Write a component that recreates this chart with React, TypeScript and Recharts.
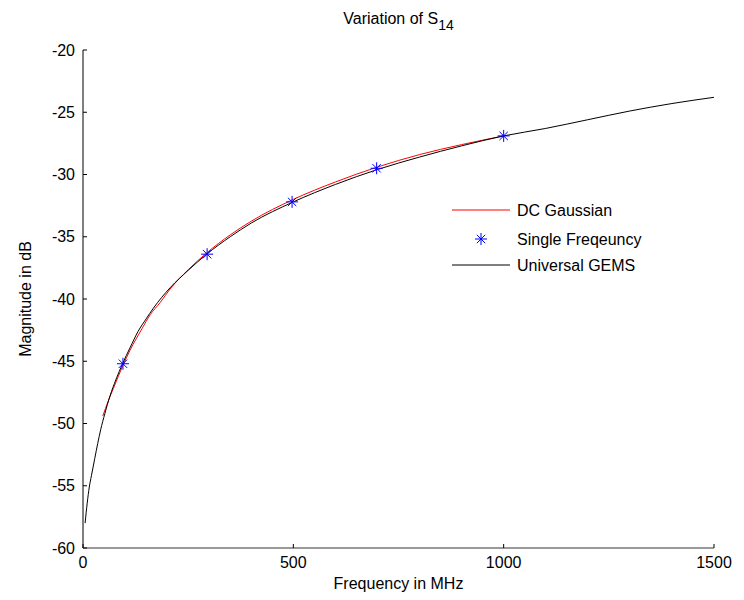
import React from 'react';
import { ComposedChart, Line, Scatter, XAxis, YAxis } from 'recharts';

// Universal GEMS (black)
const GEMS_FREQ = [5, 10, 15, 20, 28, 35, 42, 52, 64, 78, 94, 112, 131, 150, 167, 207, 250, 294, 350, 400, 500, 600, 700, 800, 900, 1000, 1100, 1200, 1300, 1400, 1500];
const GEMS_MAG = [-58.0, -56.4, -55.1, -54.2, -52.8, -51.6, -50.5, -49.2, -47.8, -46.5, -45.2, -43.9, -42.6, -41.6, -40.75, -39.1, -37.7, -36.4, -35.0, -33.9, -32.2, -30.8, -29.6, -28.6, -27.7, -26.9, -26.3, -25.6, -24.9, -24.3, -23.8];

// DC Gaussian (red)
const DC_FREQ = [47, 60, 72, 94, 112, 140, 160, 183, 207, 250, 294, 350, 400, 500, 600, 700, 800, 900, 1000];
const DC_MAG = [-49.4, -48.2, -47.2, -45.4, -44.1, -42.4, -41.25, -40.3, -39.2, -37.65, -36.3, -34.85, -33.75, -32.0, -30.6, -29.4, -28.4, -27.6, -26.9];

// Single Freqeuncy (blue stars)
const SF_FREQ = [95, 295, 497, 698, 1000];
const SF_MAG = [-45.2, -36.4, -32.2, -29.5, -26.9];

const X_TICKS = [0, 500, 1000, 1500];
const Y_TICKS = [-60, -55, -50, -45, -40, -35, -30, -25, -20];

const FONT = '"Liberation Sans", Arial, Helvetica, sans-serif';

const gems = GEMS_FREQ.map((f, i) => ({ f, v: GEMS_MAG[i] }));
const dc = DC_FREQ.map((f, i) => ({ f, v: DC_MAG[i] }));
const sf = SF_FREQ.map((f, i) => ({ f, v: SF_MAG[i] }));

function Star({ cx, cy }: { cx?: number; cy?: number }) {
  if (cx == null || cy == null) return null;
  const r = 6;
  const d = r * 0.7;
  return (
    <g stroke="#0000ff" strokeWidth={1}>
      <line x1={cx - r} y1={cy} x2={cx + r} y2={cy} />
      <line x1={cx} y1={cy - r} x2={cx} y2={cy + r} />
      <line x1={cx - d} y1={cy - d} x2={cx + d} y2={cy + d} />
      <line x1={cx - d} y1={cy + d} x2={cx + d} y2={cy - d} />
    </g>
  );
}

function LegendBox() {
  return (
    <svg width={240} height={84} style={{ fontFamily: FONT, fontSize: 16, display: 'block' }}>
      <line x1={0} y1={10} x2={58} y2={10} stroke="#ff0000" />
      <text x={65} y={16} fill="#000">DC Gaussian</text>
      <Star cx={29} cy={39} />
      <text x={65} y={45} fill="#000">Single Freqeuncy</text>
      <line x1={0} y1={65} x2={58} y2={65} stroke="#000" />
      <text x={65} y={71} fill="#000">Universal GEMS</text>
    </svg>
  );
}

export default function App() {
  return (
    <div style={{ position: 'relative', width: 728, height: 584, fontFamily: FONT }}>
      <div style={{ position: 'absolute', left: 0, width: 781, top: 2, textAlign: 'center', fontSize: 16 }}>
        Variation of S<sub style={{ fontSize: 14, verticalAlign: -6 }}>14</sub>
      </div>
      <ComposedChart width={728} height={584} margin={{ top: 42, right: 22, bottom: 0, left: 0 }}>
        <XAxis
          dataKey="f"
          type="number"
          domain={[0, 1500]}
          ticks={X_TICKS}
          allowDuplicatedCategory={false}
          height={44}
          tickSize={-4}
          tickMargin={13}
          axisLine={{ stroke: '#777', strokeWidth: 1.5 }}
          tickLine={{ stroke: '#000' }}
          tick={{ fill: '#000', fontSize: 16 }}
          label={{ value: 'Frequency in MHz', position: 'insideBottom', offset: 3, fill: '#000', fontSize: 16 }}
        />
        <YAxis
          dataKey="v"
          type="number"
          domain={[-60, -20]}
          ticks={Y_TICKS}
          width={75}
          tickSize={-4}
          tickMargin={12}
          axisLine={{ stroke: '#000' }}
          tickLine={{ stroke: '#000' }}
          tick={{ fill: '#000', fontSize: 16 }}
          label={{ value: 'Magnitude in dB', angle: -90, position: 'insideLeft', offset: 17, fill: '#000', fontSize: 16, style: { textAnchor: 'middle' } }}
        />
        <Line data={dc} dataKey="v" type="monotone" stroke="#ff0000" strokeWidth={1} dot={false} isAnimationActive={false} />
        <Scatter data={sf} dataKey="v" shape={<Star />} isAnimationActive={false} />
        <Line data={gems} dataKey="v" type="monotone" stroke="#000" strokeWidth={1} dot={false} isAnimationActive={false} />
      </ComposedChart>
      <div style={{ position: 'absolute', left: 444, top: 192 }}>
        <LegendBox />
      </div>
    </div>
  );
}
